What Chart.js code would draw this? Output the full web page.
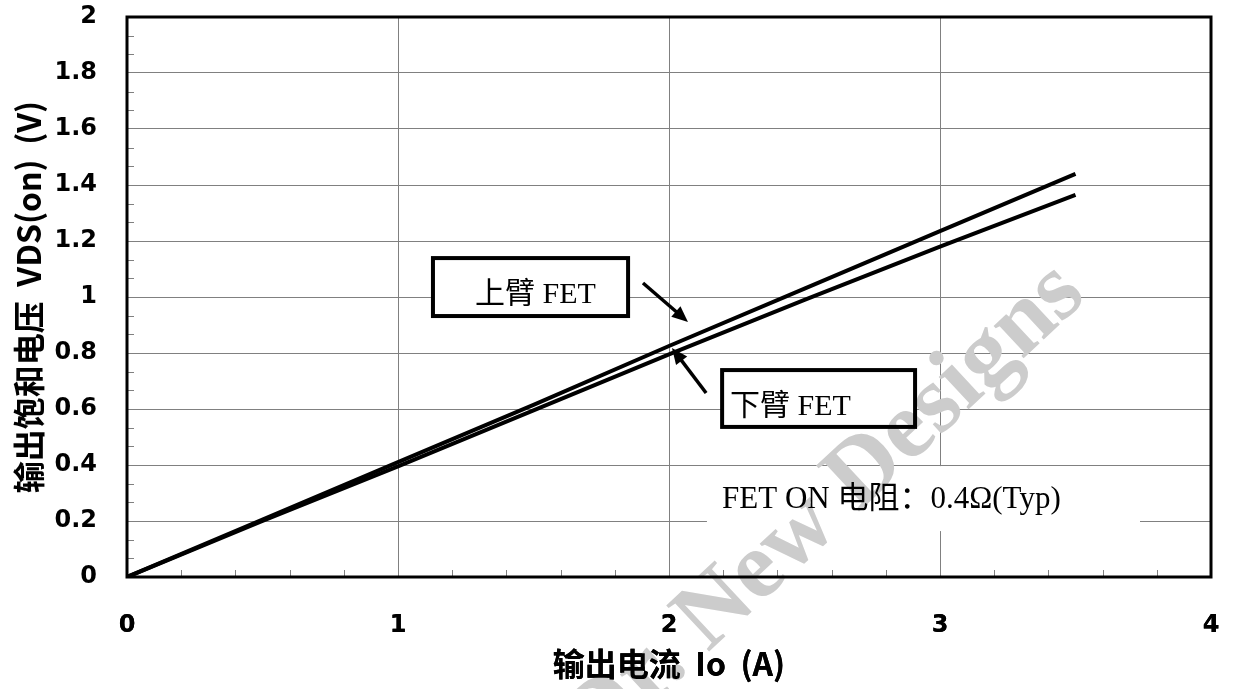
<!DOCTYPE html>
<html>
<head>
<meta charset="utf-8">
<script src="https://cdn.jsdelivr.net/npm/chart.js@4/dist/chart.umd.min.js"></script>
<style>
  body { margin: 0; background: #fff; }
  canvas { display: block; }
</style>
</head>
<body>
<canvas id="chart" width="1234" height="689"></canvas>
<script>
// Output current Io (A)
const currentA = [0, 0.5, 1, 1.5, 2, 2.5, 3, 3.5];
// VDS(on) for upper / lower arm FET (V)
const upperFetV = [0, 0.205, 0.41, 0.615, 0.825, 1.03, 1.235, 1.44];
const lowerFetV = [0, 0.2, 0.395, 0.595, 0.795, 0.99, 1.18, 1.365];

const xTicks = [0, 1, 2, 3, 4];
const yTicks = [0, 0.2, 0.4, 0.6, 0.8, 1, 1.2, 1.4, 1.6, 1.8, 2];

const xTitle = '输出电流  Io  (A)';
const yTitle = '输出饱和电压  VDS(on)  (V)';
const upperLabel = '上臂 FET';
const lowerLabel = '下臂 FET';
const noteLabel = 'FET ON 电阻：0.4Ω(Typ)';

const toPoints = (xs, ys) => xs.map((x, i) => ({ x, y: ys[i] }));

const serif = '"Liberation Serif", "Noto Sans CJK SC", serif';
const tickFont = '"DejaVu Sans", sans-serif';

// helper: data -> pixel
function px(chart, x, y) {
    return [chart.scales.x.getPixelForValue(x), chart.scales.y.getPixelForValue(y)];
}

function arrow(ctx, x1, y1, x2, y2) {
    const ang = Math.atan2(y2 - y1, x2 - x1);
    const head = 16, wing = 7;
    ctx.beginPath();
    ctx.moveTo(x1, y1);
    ctx.lineTo(x2 - Math.cos(ang) * head * 0.8, y2 - Math.sin(ang) * head * 0.8);
    ctx.stroke();
    ctx.beginPath();
    ctx.moveTo(x2, y2);
    ctx.lineTo(x2 - Math.cos(ang) * head + Math.sin(ang) * wing, y2 - Math.sin(ang) * head - Math.cos(ang) * wing);
    ctx.lineTo(x2 - Math.cos(ang) * head - Math.sin(ang) * wing, y2 - Math.sin(ang) * head + Math.cos(ang) * wing);
    ctx.closePath();
    ctx.fill();
}

const decorPlugin = {
    id: 'decor',
    beforeDatasetsDraw(chart) {
        const ctx = chart.ctx;
        const a = chart.chartArea;
        ctx.save();
        // minor ticks
        ctx.strokeStyle = '#808080';
        ctx.lineWidth = 1;
        for (let v = 0.2; v < 4; v += 0.2) {
            if (Math.abs(v - Math.round(v)) < 0.01) continue;
            const x = Math.round(chart.scales.x.getPixelForValue(v)) + 0.5;
            ctx.beginPath();
            ctx.moveTo(x, a.bottom);
            ctx.lineTo(x, a.bottom - 7);
            ctx.stroke();
        }
        for (let i = 1; i < 30; i++) {
            if (i % 3 === 0) continue;
            const y = Math.round(chart.scales.y.getPixelForValue(i * 0.2 / 3)) + 0.5;
            ctx.beginPath();
            ctx.moveTo(a.left, y);
            ctx.lineTo(a.left + 7, y);
            ctx.stroke();
        }
        // white backgrounds for notes
        ctx.fillStyle = '#fff';
        let [x1, y1] = px(chart, 2.14, 0.396);
        let [x2, y2] = px(chart, 3.738, 0.164);
        ctx.fillRect(x1, y1, x2 - x1, y2 - y1);
        [x1, y1] = px(chart, 1.129, 1.139);
        [x2, y2] = px(chart, 1.849, 0.932);
        ctx.fillRect(x1, y1, x2 - x1, y2 - y1);
        [x1, y1] = px(chart, 2.196, 0.739);
        [x2, y2] = px(chart, 2.908, 0.536);
        ctx.fillRect(x1, y1, x2 - x1, y2 - y1);

        // watermark
        ctx.translate(1088, 298);
        ctx.rotate(-43 * Math.PI / 180);
        ctx.fillStyle = '#cccccc';
        ctx.font = 'bold 96px "Liberation Serif", serif';
        ctx.textAlign = 'right';
        ctx.textBaseline = 'alphabetic';
        ctx.fillText('Dr. New Designs', 0, 0);
        ctx.restore();
    },
    afterDatasetsDraw(chart) {
        const ctx = chart.ctx;
        const a = chart.chartArea;
        ctx.save();
        ctx.strokeStyle = '#000';
        ctx.fillStyle = '#000';
        // label boxes
        ctx.lineWidth = 4;
        let [x1, y1] = px(chart, 1.129, 1.139);
        let [x2, y2] = px(chart, 1.849, 0.932);
        ctx.strokeRect(x1, y1, x2 - x1, y2 - y1);
        [x1, y1] = px(chart, 2.196, 0.739);
        [x2, y2] = px(chart, 2.908, 0.536);
        ctx.strokeRect(x1, y1, x2 - x1, y2 - y1);

        ctx.font = '30px ' + serif;
        ctx.textBaseline = 'alphabetic';
        ctx.textAlign = 'left';
        let [tx, ty] = px(chart, 1.284, 0.979);
        ctx.fillText(upperLabel, tx, ty);
        [tx, ty] = px(chart, 2.225, 0.579);
        ctx.fillText(lowerLabel, tx, ty);
        ctx.font = '31px ' + serif;
        [tx, ty] = px(chart, 2.196, 0.246);
        ctx.fillText(noteLabel, tx, ty);

        // arrows
        ctx.lineWidth = 3.5;
        let [ax1, ay1] = px(chart, 1.904, 1.05);
        let [ax2, ay2] = px(chart, 2.07, 0.911);
        arrow(ctx, ax1, ay1, ax2, ay2);
        [ax1, ay1] = px(chart, 2.137, 0.657);
        [ax2, ay2] = px(chart, 2.011, 0.818);
        arrow(ctx, ax1, ay1, ax2, ay2);

        // plot frame
        ctx.lineWidth = 3;
        ctx.strokeRect(a.left, a.top, a.right - a.left, a.bottom - a.top);
        ctx.restore();

        // axis text stays on top of the watermark
        chart.scales.x.drawLabels(a);
        chart.scales.x.drawTitle();
    }
};

new Chart(document.getElementById('chart'), {
    type: 'line',
    data: {
        datasets: [
            {
                label: upperLabel,
                data: toPoints(currentA, upperFetV),
                borderColor: '#000',
                borderWidth: 4,
                pointRadius: 0,
                tension: 0
            },
            {
                label: lowerLabel,
                data: toPoints(currentA, lowerFetV),
                borderColor: '#000',
                borderWidth: 4,
                pointRadius: 0,
                tension: 0
            }
        ]
    },
    options: {
        responsive: false,
        animation: false,
        layout: { padding: { top: 17, right: 23, left: 0, bottom: 0 } },
        plugins: {
            legend: { display: false },
            tooltip: { enabled: false }
        },
        scales: {
            x: {
                type: 'linear',
                min: 0,
                max: 4,
                afterFit: s => {
                    s.height = 112;
                    s.paddingLeft = 0; s.paddingRight = 0;
                },
                afterBuildTicks: s => { s.ticks = xTicks.map(v => ({ value: v })); },
                ticks: {
                    padding: 34,
                    color: '#000',
                    font: { family: tickFont, size: 24, weight: 'bold' },
                    maxRotation: 0,
                    callback: v => String(v)
                },
                grid: { color: '#808080', lineWidth: 1, drawTicks: false },
                border: { display: false },
                title: {
                    display: true,
                    text: xTitle,
                    color: '#000',
                    font: { family: '"Noto Sans CJK SC", sans-serif', size: 32, weight: 'bold' },
                    padding: { top: 0, bottom: 6 }
                }
            },
            y: {
                min: 0,
                max: 2,
                afterFit: s => {
                    s.width = 127;
                    s.paddingTop = 0; s.paddingBottom = 0;
                },
                afterBuildTicks: s => { s.ticks = yTicks.map(v => ({ value: v })); },
                ticks: {
                    padding: 30,
                    color: '#000',
                    font: { family: tickFont, size: 24, weight: 'bold' },
                    callback: v => String(Math.round(v * 10) / 10)
                },
                grid: { color: '#808080', lineWidth: 1, drawTicks: false },
                border: { display: false },
                title: {
                    display: true,
                    text: yTitle,
                    color: '#000',
                    font: { family: '"Noto Sans CJK SC", sans-serif', size: 32, weight: 'bold' },
                    padding: { top: 10, bottom: 0 }
                }
            }
        }
    },
    plugins: [decorPlugin]
});
</script>
</body>
</html>
